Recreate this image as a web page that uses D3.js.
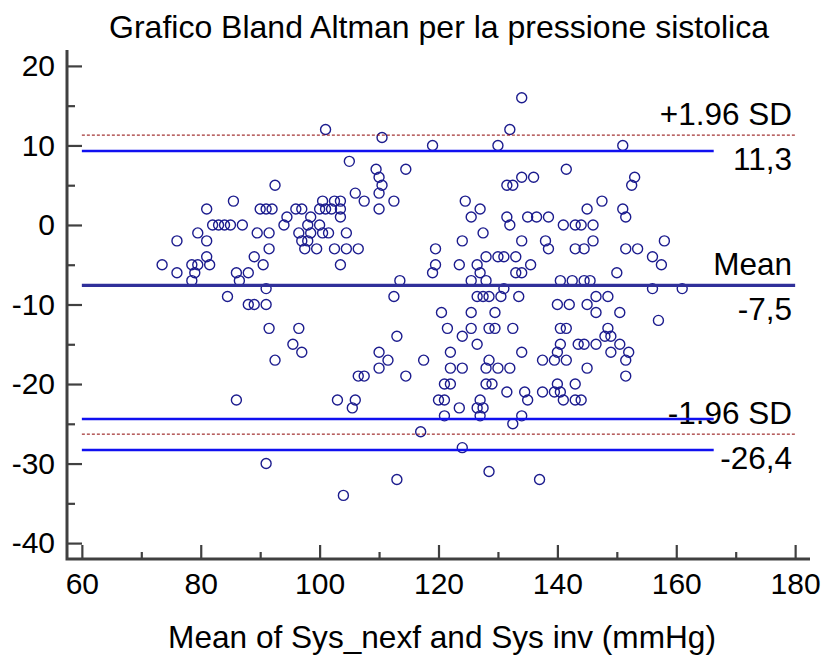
<!DOCTYPE html>
<html><head><meta charset="utf-8">
<script src="https://cdn.jsdelivr.net/npm/d3@7"></script>
<style>
html,body{margin:0;padding:0;background:#fff;}
svg{display:block;font-family:"Liberation Sans",Arial,sans-serif;}
</style></head>
<body>
<svg id="chart" width="824" height="657"></svg>
<script>
// ---- data ----
const titleText = "Grafico Bland Altman per la pressione sistolica";
const xAxisTitle = "Mean of Sys_nexf and Sys inv (mmHg)";
const xMajorTicks = [60, 80, 100, 120, 140, 160, 180];
const xMinorTicks = [70, 90, 110, 130, 150, 170];
const yMajorTicks = [-40, -30, -20, -10, 0, 10, 20];
const yMinorTicks = [-35, -25, -15, -5, 5, 15];
// [mean of two methods, difference]
const points = [
[92.5,5],[85.5,3],[81,2],[90,2],[91,2],[92,2],[96,2],[97,2],[94.5,1],[82,0],[83,0],[84,0],[85,0],[87,0],[94,0],[98,0],[100,0],[76,-2],[79.5,-1],[81,-2],[89.5,-1],[91.5,-1],[96.5,-1],[97,-2],[98,-2],[91.5,-3],[97.5,-3],[99.5,-3],[81,-4],[73.5,-5],[78.5,-5],[79.5,-5],[81.5,-5],[76,-6],[79,-6],[78.5,-7],[89,-4],[90.5,-5],[86,-6],[88,-6],[86.5,-7],[91,-8],[84.5,-9],[88,-10],[89,-10],[91,-10],[91.5,-13],[96.5,-13],[95.5,-15],[97,-16],[92.5,-17],[86,-22],[91,-30],
[101,12],[110.5,11],[119,10],[105,8],[109.5,7],[114.5,7],[110,6],[110.5,5],[110,4],[106,4],[107.5,3],[112.5,3],[110,2],[100.5,3],[102.5,3],[103.5,3],[100,2],[101,2],[102,2],[103.5,2],[98.5,1],[103.5,1],[98.5,-1],[100.5,-1],[101.5,-1],[104.5,-1],[102.5,-3],[104.5,-3],[106.5,-3],[103.5,-5],[119.5,-3],[119.5,-5],[119,-6],[113.5,-7],[124,-2],[124.5,3],[127,2],[125.5,1],[127.5,-1],[128,-4],[126.5,-5],[127,-6],[123.5,-5],[125.5,-7],[128,-7],
[130,-4],[131,-4],[133,-4],[133,-6],[134,-6],[135.5,-5],[140.5,-7],[142.5,-7],[144.5,-7],[145.5,-7],[131,-8],[126.5,-9],[127.5,-9],[128.5,-9],[130.5,-9],[133.5,-9],[140,-10],[142,-10],[145,-10],[146.5,-9],[146.5,-11],[120.5,-11],[125.5,-11],[129.5,-11],[113,-14],[121.5,-13],[125.5,-13],[128.5,-13],[129.5,-13],[132.5,-13],[140.5,-13],[141.5,-13],[124,-14],[126.5,-15],[140.5,-15],[143.5,-15],[144.5,-15],[146.5,-15],[122,-16],[117.5,-17],[134,-16],[128.5,-17],[140,-16],[137.5,-17],[139.5,-17],[141.5,-17],[122,-18],[124,-18],[128,-18],[130,-18],[132,-18],[145,-18],[114.5,-19],[121,-20],[122,-20],[128,-20],[129,-20],[140,-20],[143,-20],[131.5,-21],[134.5,-21],[137.5,-21],[139.5,-21],[140.5,-21],[120,-22],[121,-22],[127,-22],[135,-22],[141,-22],[143,-22],[144,-22],[123.5,-23],[126.5,-23],[127.5,-23],[121,-24],[127,-24],[134,-24],[132.5,-25],[117,-26],[124,-28],[128.5,-31],[137,-32],[113,-32],
[141.5,7],[153,6],[152.5,5],[147.5,3],[145,2],[151,2],[151.5,1],[138.5,1],[141,0],[143,0],[144,0],[146,0],[138,-2],[138.5,-3],[146,-2],[143,-3],[144.5,-3],[151.5,-3],[153.5,-3],[158,-2],[156,-4],[157.5,-5],[150,-6],[156,-8],[161,-8],[148.5,-9],[150.5,-11],[157,-12],[148.5,-13],[148,-14],[149,-14],[150.5,-15],[149,-16],[152,-16],[151.5,-17],[151.5,-19],
[134,16],[132,12],[130,10],[134,6],[136,6],[131.5,5],[132.5,5],[131.5,1],[132,0],[135,1],[136.5,1],[134,-2],[151,10],
[112.5,-9],[110,-16],[111.5,-17],[110,-18],[106.5,-19],[107.5,-19],[103,-22],[106,-22],[105.5,-23],[104,-34]
];
// reference lines: value, x-extent
const meanLine = {value: -7.6, x0: 60, x1: 180};
const loaLines = [{value: 11.3, x0: 60, x1: 180}, {value: -26.3, x0: 60, x1: 180}];
const ciLines = [{value: 9.3, x0: 60, x1: 166.3}, {value: -24.4, x0: 60, x1: 166.3}, {value: -28.3, x0: 60, x1: 166.3}];
const lineLabels = [
  {text: "+1.96 SD", value: 11.3, pos: "above"},
  {text: "11,3", value: 11.3, pos: "below"},
  {text: "Mean", value: -7.6, pos: "above"},
  {text: "-7,5", value: -7.6, pos: "below"},
  {text: "-1.96 SD", value: -26.3, pos: "above"},
  {text: "-26,4", value: -26.3, pos: "below"}
];

// ---- drawing ----
const svg = d3.select("#chart");
const x = d3.scaleLinear().domain([57.5, 182.5]).range([67, 810]);
const y = d3.scaleLinear().domain([-42, 22]).range([559, 50]);
const axisColor = "#404040";

svg.append("text").attr("x", 439).attr("y", 38).attr("text-anchor", "middle")
  .attr("font-size", 32).attr("fill", "#000").text(titleText);

// labels for lines
svg.selectAll("text.lbl").data(lineLabels).enter().append("text")
  .attr("class", "lbl")
  .attr("x", 792)
  .attr("y", d => d.pos === "above" ? y(d.value) - 10 : y(d.value) + 35)
  .attr("text-anchor", "end").attr("font-size", 31.5).attr("fill", "#000")
  .text(d => d.text);

// points
svg.append("g").selectAll("circle").data(points).enter().append("circle")
  .attr("cx", d => x(d[0])).attr("cy", d => y(d[1])).attr("r", 5)
  .attr("fill", "none").attr("stroke", "#1c1c8e").attr("stroke-width", 1.4);

// lines
svg.append("g").selectAll("line").data(loaLines).enter().append("line")
  .attr("x1", d => x(d.x0)).attr("x2", d => x(d.x1))
  .attr("y1", d => y(d.value)).attr("y2", d => y(d.value))
  .attr("stroke", "#8b0000").attr("stroke-width", 1).attr("stroke-dasharray", "3,2");
svg.append("g").selectAll("line").data(ciLines).enter().append("line")
  .attr("x1", d => x(d.x0)).attr("x2", d => x(d.x1))
  .attr("y1", d => y(d.value)).attr("y2", d => y(d.value))
  .attr("stroke", "#1010f0").attr("stroke-width", 2.6);
svg.append("line")
  .attr("x1", x(meanLine.x0)).attr("x2", x(meanLine.x1))
  .attr("y1", y(meanLine.value)).attr("y2", y(meanLine.value))
  .attr("stroke", "#30309a").attr("stroke-width", 3.2);

// axes
function styleAxis(g) {
  g.select(".domain").remove();
  g.selectAll(".tick line").attr("stroke", axisColor).attr("stroke-width", 2.2);
  g.selectAll(".tick text").attr("fill", "#000").attr("font-size", 30)
    .attr("font-family", '"Liberation Sans",Arial,sans-serif');
}
const gyMinor = svg.append("g").attr("transform", "translate(67,0)")
  .call(d3.axisLeft(y).tickValues(yMinorTicks).tickSize(-8).tickFormat(""));
styleAxis(gyMinor);
const gy = svg.append("g").attr("transform", "translate(67,0)")
  .call(d3.axisLeft(y).tickValues(yMajorTicks).tickSize(-15).tickPadding(12).tickFormat(d => String(d)));
styleAxis(gy);
const gxMinor = svg.append("g").attr("transform", "translate(0,559)")
  .call(d3.axisBottom(x).tickValues(xMinorTicks).tickSize(-7).tickFormat(""));
styleAxis(gxMinor);
const gx = svg.append("g").attr("transform", "translate(0,559)")
  .call(d3.axisBottom(x).tickValues(xMajorTicks).tickSize(-14).tickPadding(14).tickFormat(d => String(d)));
styleAxis(gx);

// axis lines
svg.append("path")
  .attr("d", `M${x(57.5)},${y(22)}V${y(-42)}H${x(182.5)}`)
  .attr("fill", "none").attr("stroke", axisColor).attr("stroke-width", 3);

svg.append("text").attr("x", 442).attr("y", 648).attr("text-anchor", "middle")
  .attr("font-size", 31.6).attr("fill", "#000").text(xAxisTitle);
</script>
</body></html>
